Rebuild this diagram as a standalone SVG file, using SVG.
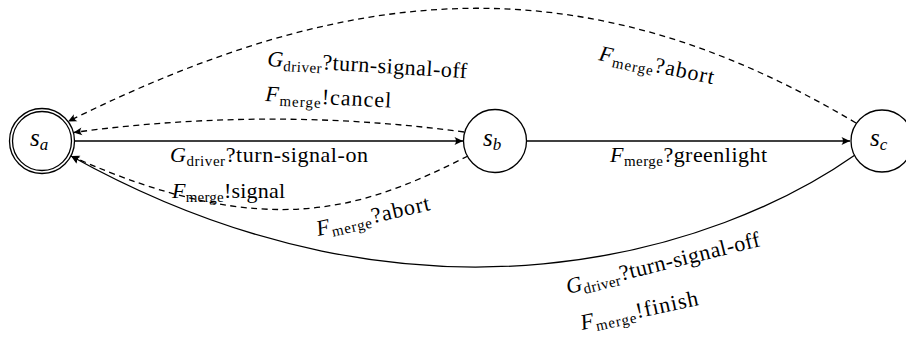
<svg xmlns="http://www.w3.org/2000/svg" width="906" height="337" viewBox="0 0 906 337">
<style>
.node{fill:#fff;stroke:#000;stroke-width:1.3}
.e{fill:none;stroke:#000;stroke-width:1.3}
.d{stroke-dasharray:6 4.5}
.lbl{font-family:"Liberation Serif","Times New Roman",serif;font-size:22px;fill:#000}
.it{font-style:italic}
.sub{font-size:15px}
.nm{font-family:"Liberation Serif","Times New Roman",serif;font-size:25px;font-style:italic;fill:#000}
.nsub{font-size:17px}
</style>
<defs>
<marker id="arr" markerUnits="userSpaceOnUse" markerWidth="12" markerHeight="10" refX="0" refY="0" viewBox="-10 -5 12 10" orient="auto" overflow="visible">
<path d="M0,0 L-8.5,-4 Q-5.5,0 -8.5,4 Z" fill="#000"/>
</marker>
</defs>
<g id="edges">
<path class="e" d="M75 141 L463 141" marker-end="url(#arr)"/>
<path class="e" d="M527 141 L850 141" marker-end="url(#arr)"/>
<path class="e d" d="M464 132 Q270 106 73.5 132.5" marker-end="url(#arr)"/>
<path class="e d" d="M468 156 C368 206 271 246 71 156" marker-end="url(#arr)"/>
<path class="e d" d="M856 123 C579 -42 347 -17 68 121.5" marker-end="url(#arr)"/>
<path class="e" d="M855 155 C720 250 420 350 71 156" marker-end="url(#arr)"/>
</g>
<g id="labels">
<text class="lbl" x="170" y="162" textLength="198"><tspan class="it">G</tspan><tspan class="sub" dy="4">driver</tspan><tspan dy="-4">?turn-signal-on</tspan></text>
<text class="lbl" x="610" y="162" textLength="157"><tspan class="it">F</tspan><tspan class="sub" dy="4">merge</tspan><tspan dy="-4">?greenlight</tspan></text>
<text class="lbl" transform="translate(265,101) rotate(3)" textLength="126"><tspan class="it">F</tspan><tspan class="sub" dy="4">merge</tspan><tspan dy="-4">!cancel</tspan></text>
<text class="lbl" transform="translate(267,66) rotate(3.5)" textLength="200"><tspan class="it">G</tspan><tspan class="sub" dy="4">driver</tspan><tspan dy="-4">?turn-signal-off</tspan></text>
<text class="lbl" transform="translate(598,60) rotate(12)" textLength="117"><tspan class="it">F</tspan><tspan class="sub" dy="4">merge</tspan><tspan dy="-4">?abort</tspan></text>
<text class="lbl" x="172" y="198" textLength="113"><tspan class="it">F</tspan><tspan class="sub" dy="4">merge</tspan><tspan dy="-4">!signal</tspan></text>
<text class="lbl" transform="translate(318,236) rotate(-13)" textLength="116"><tspan class="it">F</tspan><tspan class="sub" dy="4">merge</tspan><tspan dy="-4">?abort</tspan></text>
<text class="lbl" transform="translate(568,294) rotate(-14)" textLength="199"><tspan class="it">G</tspan><tspan class="sub" dy="4">driver</tspan><tspan dy="-4">?turn-signal-off</tspan></text>
<text class="lbl" transform="translate(582,330) rotate(-12)" textLength="120"><tspan class="it">F</tspan><tspan class="sub" dy="4">merge</tspan><tspan dy="-4">!finish</tspan></text>
</g>
<g id="s_a">
<circle class="node" cx="42" cy="141" r="32.5"/>
<circle class="node" cx="42" cy="141" r="29.5"/>
<text class="nm" x="30" y="146">s<tspan class="nsub" dy="4">a</tspan></text>
</g>
<g id="s_b">
<circle class="node" cx="495" cy="141" r="31.5"/>
<text class="nm" x="483" y="146">s<tspan class="nsub" dy="4">b</tspan></text>
</g>
<g id="s_c">
<circle class="node" cx="882" cy="141" r="31"/>
<text class="nm" x="870" y="146">s<tspan class="nsub" dy="4">c</tspan></text>
</g>
</svg>
